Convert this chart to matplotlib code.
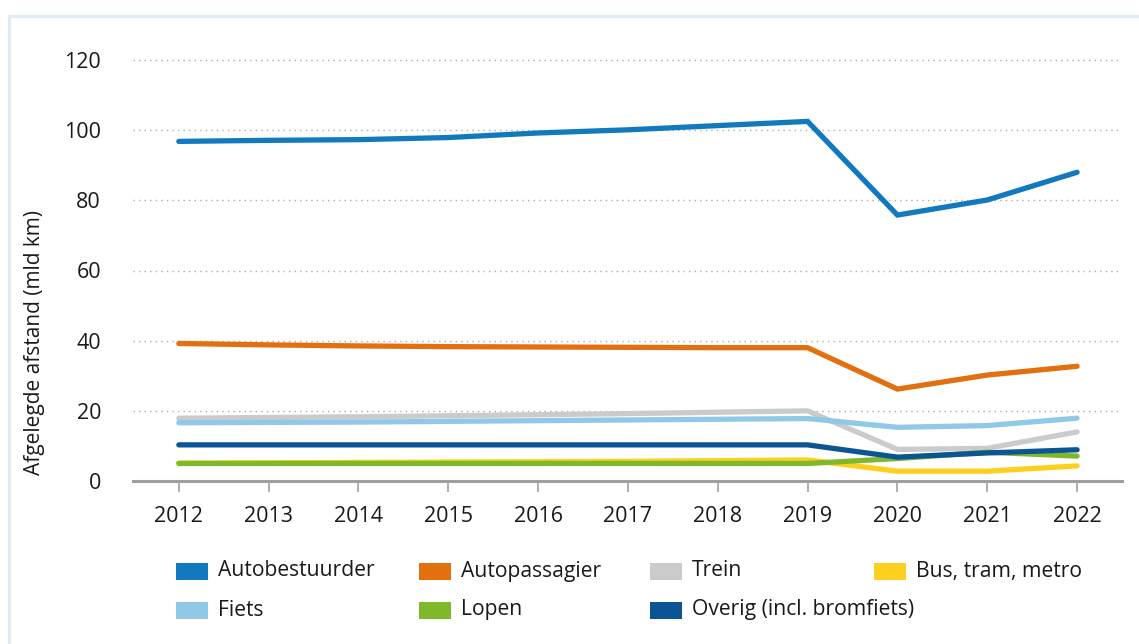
import matplotlib
matplotlib.use("Agg")
import matplotlib.pyplot as plt
from matplotlib.patches import Rectangle

# === data ===
years = [2012, 2013, 2014, 2015, 2016, 2017, 2018, 2019, 2020, 2021, 2022]
autobestuurder = [96.8, 97.1, 97.3, 97.9, 99.2, 100.1, 101.3, 102.5, 75.8, 80.1, 88.0]
autopassagier = [39.2, 38.8, 38.5, 38.3, 38.2, 38.1, 38.0, 38.0, 26.2, 30.2, 32.7]
trein = [17.9, 18.1, 18.3, 18.6, 18.9, 19.2, 19.6, 20.0, 9.0, 9.3, 14.0]
bus_tram_metro = [5.1, 5.2, 5.3, 5.4, 5.5, 5.6, 5.8, 6.0, 2.8, 2.8, 4.3]
fiets = [16.6, 16.7, 16.8, 17.0, 17.2, 17.4, 17.6, 17.8, 15.3, 15.8, 17.9]
lopen = [5.0, 5.0, 5.0, 5.0, 5.0, 5.0, 5.0, 5.0, 6.4, 8.2, 7.1]
overig = [10.3, 10.3, 10.3, 10.3, 10.3, 10.3, 10.3, 10.3, 6.8, 8.0, 8.9]

series_names = ["Autobestuurder", "Autopassagier", "Trein", "Bus, tram, metro",
                "Fiets", "Lopen", "Overig (incl. bromfiets)"]
series_values = [autobestuurder, autopassagier, trein, bus_tram_metro,
                 fiets, lopen, overig]
colors = ["#1379be", "#e3700f", "#cbcbcb", "#fdd020",
          "#90c9e8", "#7fb92a", "#0c5595"]

y_ticks = [0, 20, 40, 60, 80, 100, 120]
y_label = "Afgelegde afstand (mld km)"

# === figure ===
plt.rcParams["font.family"] = ["Open Sans", "DejaVu Sans"]
W, H = 1139, 644
fig = plt.figure(figsize=(W / 100, H / 100), dpi=100)
ax = fig.add_axes([133 / W, 1 - 481 / H, (1122 - 133) / W, (481 - 60) / H])

for name, vals, c in zip(series_names, series_values, colors):
    ax.plot(years, vals, color=c, lw=3.8, solid_capstyle="round",
            solid_joinstyle="miter", label=name)

ax.set_xlim(2011.49, 2022.5)
ax.set_ylim(0, 120)
ax.set_xticks(years)
ax.set_yticks(y_ticks)
ax.set_xticklabels([str(y) for y in years], fontsize=15.5, color="#1a1a1a")
ax.set_yticklabels([str(v) for v in y_ticks], fontsize=15.5, color="#1a1a1a")
ax.tick_params(axis="y", length=0, pad=23)
ax.tick_params(axis="x", length=8, width=1.3, color="#a8a8a8", pad=10)

for v in y_ticks[1:]:
    ax.axhline(v, color="#ababab", lw=1.0, ls=(0, (1, 3)), zorder=0.5, clip_on=False)

for side in ["top", "right", "left"]:
    ax.spines[side].set_visible(False)
ax.spines["bottom"].set_color("#a0a0a0")
ax.spines["bottom"].set_linewidth(2.2)

ax.set_ylabel(y_label, fontsize=15, color="#1a1a1a", labelpad=16)
ax.yaxis.set_label_coords(-88 / (1122 - 133), 0.33)

# === legend (manual grid) ===
col_x = [176, 419, 650, 874]
row_y = [571, 610]
for i, (name, c) in enumerate(zip(series_names, colors)):
    x0 = col_x[i % 4]
    y0 = row_y[i // 4]
    fig.add_artist(Rectangle((x0 / W, 1 - (y0 + 8.5) / H), 32 / W, 17 / H,
                             transform=fig.transFigure, color=c, lw=0))
    fig.text((x0 + 42) / W, 1 - y0 / H, name, fontsize=15.2, color="#1a1a1a",
             va="center", ha="left", fontstretch="semi-condensed")

# outer frame
fig.add_artist(Rectangle((8.5 / W, -0.1), 1.2, 1 - 15.5 / H + 0.1,
                         transform=fig.transFigure, fill=False,
                         edgecolor="#ddedf8", lw=2.2))

fig.savefig("out.png", dpi=100)
